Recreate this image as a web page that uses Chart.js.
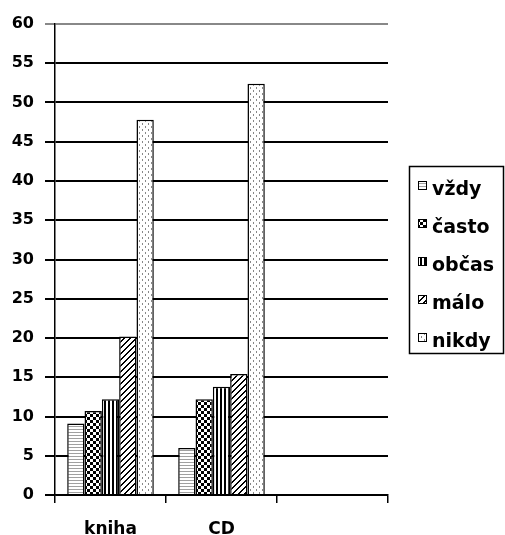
<!DOCTYPE html>
<html>
<head>
<meta charset="utf-8">
<script src="https://cdn.jsdelivr.net/npm/chart.js@4/dist/chart.umd.min.js"></script>
<style>
  html, body { margin: 0; padding: 0; background: #fff; }
  #wrap { width: 505px; height: 535px; }
</style>
</head>
<body>
<div id="wrap"><canvas id="chart" width="505" height="535"></canvas></div>
<script>
const categories = ["kniha", "CD", ""];
const seriesNames = ["vždy", "často", "občas", "málo", "nikdy"];
const vzdy = [9.1, 6.0, null];
const casto = [10.7, 12.2, null];
const obcas = [12.2, 13.8, null];
const malo = [20.2, 15.4, null];
const nikdy = [47.8, 52.4, null];
const yTicks = [0, 5, 10, 15, 20, 25, 30, 35, 40, 45, 50, 55, 60];

const FONT = "'DejaVu Sans', 'Liberation Sans', Arial, sans-serif";

// small canvas tiles for the fill patterns
function makePattern(w, h, draw) {
  const c = document.createElement("canvas");
  c.width = w; c.height = h;
  const g = c.getContext("2d");
  g.fillStyle = "#fff";
  g.fillRect(0, 0, w, h);
  draw(g);
  return g.createPattern(c, "repeat");
}

const patHoriz = makePattern(4, 3, g => {
  g.fillStyle = "#a0a0a0";
  g.fillRect(0, 0, 4, 1);
});
const patCheck = makePattern(6, 6, g => {
  g.fillStyle = "#000";
  g.fillRect(0, 0, 3, 3);
  g.fillRect(3, 3, 3, 3);
});
const patVert = makePattern(4, 2, g => {
  g.fillStyle = "#000";
  g.fillRect(0, 0, 2, 2);
});
const patDiag = makePattern(6, 6, g => {
  g.fillStyle = "#000";
  for (let i = 0; i < 6; i++) {
    g.fillRect(i, 5 - i, 2, 1);
  }
  g.fillRect(0, 0, 1, 1);
});
const patDots = makePattern(6, 6, g => {
  g.fillStyle = "#888";
  g.fillRect(1, 0, 1, 2);
  g.fillRect(4, 3, 1, 2);
});

const fills = [patHoriz, patCheck, patVert, patDiag, patDots];
const values = [vzdy, casto, obcas, malo, nikdy];

// legend box drawn by hand so it sits where the original one is
const boxLegend = {
  id: "boxLegend",
  afterDraw(chart) {
    const ctx = chart.ctx;
    const x0 = 409, y0 = 166, w = 94, h = 187;
    ctx.save();
    ctx.strokeStyle = "#000";
    ctx.lineWidth = 1.5;
    ctx.strokeRect(x0 + 0.5, y0 + 0.5, w, h);
    ctx.font = "bold 19px " + FONT;
    ctx.textBaseline = "alphabetic";
    chart.data.datasets.forEach((ds, i) => {
      const base = 195 + i * 38;
      ctx.fillStyle = ds.backgroundColor;
      ctx.fillRect(x0 + 9, base - 14, 8, 8);
      ctx.lineWidth = 1;
      ctx.strokeRect(x0 + 9.5, base - 13.5, 8, 8);
      ctx.fillStyle = "#000";
      ctx.fillText(ds.label, x0 + 23, base);
    });
    ctx.restore();
  }
};

new Chart(document.getElementById("chart"), {
  type: "bar",
  data: {
    labels: categories,
    datasets: seriesNames.map((name, i) => ({
      label: name,
      data: values[i],
      backgroundColor: fills[i],
      borderColor: "#000",
      borderWidth: 1.5,
      barPercentage: 1,
      categoryPercentage: 0.78
    }))
  },
  options: {
    responsive: false,
    animation: false,
    layout: { padding: { top: 24, right: 117, bottom: 0, left: 0 } },
    plugins: {
      legend: { display: false },
      tooltip: { enabled: false }
    },
    scales: {
      x: {
        afterFit: s => { s.height = 40; },
        grid: { offset: true, drawOnChartArea: false, tickLength: 8, color: "#000", lineWidth: 1.5 },
        border: { color: "#000", width: 1.5 },
        ticks: {
          color: "#000",
          padding: 16,
          font: { family: FONT, size: 17, weight: "bold" }
        }
      },
      y: {
        min: 0,
        max: 60,
        afterFit: s => { s.width = 55; },
        afterBuildTicks: s => { s.ticks = yTicks.map(v => ({ value: v })); },
        grid: {
          tickLength: 10,
          lineWidth: 2,
          color: ctx => (ctx.tick && ctx.tick.value === 60 ? "#888" : "#000")
        },
        border: { color: "#000", width: 1.5 },
        ticks: {
          color: "#000",
          padding: 11,
          font: { family: FONT, size: 16, weight: "bold" }
        }
      }
    }
  },
  plugins: [boxLegend]
});
</script>
</body>
</html>
